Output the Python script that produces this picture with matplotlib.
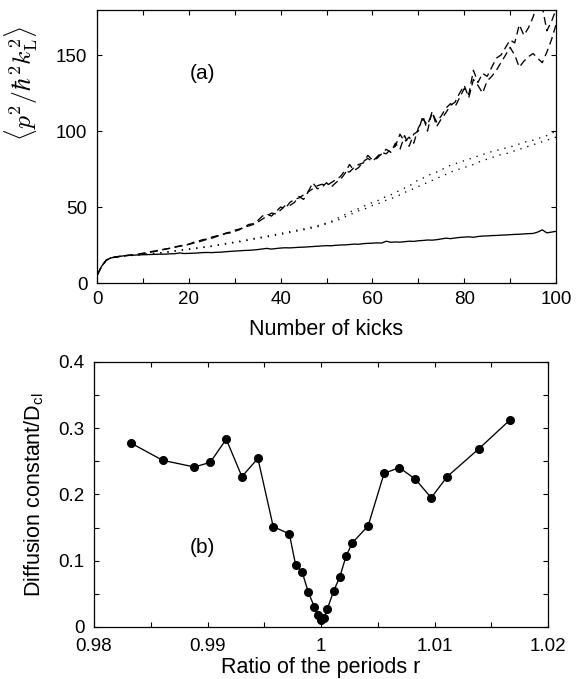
import matplotlib
matplotlib.use("Agg")
import matplotlib.pyplot as plt
from matplotlib.ticker import MultipleLocator, FuncFormatter

plt.rcParams["font.family"] = ["Liberation Sans", "DejaVu Sans"]
plt.rcParams["mathtext.fontset"] = "custom"
plt.rcParams["mathtext.rm"] = "Liberation Sans"
plt.rcParams["mathtext.it"] = "Liberation Sans:italic"

# panel (a): <p^2> vs number of kicks
kicks = list(range(101))
solid = [5, 11, 15, 16.5, 17, 17.5, 18, 18.2, 18.3, 18.5, 18.6, 18.7, 18.8, 18.9, 19, 19, 19.2, 19.3, 19.8, 19.4,
         19.5, 19.6, 19.8, 20, 20.1, 20, 20.2, 20.3, 20.6, 20.8, 21, 21.2, 21.4, 21.5, 21.7, 22, 22.4, 22.8, 22.3, 22.7,
         23, 23.2, 23.1, 23.3, 23.5, 23.6, 23.8, 24, 24.2, 24.4, 24.6, 24.5, 24.8, 25, 25.1, 25.3, 25.6, 25.5, 25.9, 26.1,
         26.2, 26.4, 26.3, 27.5, 26.8, 27, 26.9, 27.2, 27.5, 27.4, 27.8, 28, 28.3, 28.2, 28.5, 29, 29.5, 29.2, 29.6, 30,
         30.2, 30.4, 30.1, 30.6, 30.9, 31, 31.2, 31.3, 31.5, 31.6, 31.8, 32, 32.1, 32.3, 32.5, 32.6, 33.5, 35, 33, 33.5,
         34]
dotted_a = [5, 11, 15, 16.5, 17.1, 17.5, 17.9, 18.1, 18.3, 18.5, 18.8, 19.1, 19.4, 19.7, 20, 20.4, 20.8, 21.2, 21.6, 22,
            22.4, 22.8, 23.2, 23.6, 24, 24.4, 24.9, 25.4, 26, 26.5, 27, 27.5, 28, 28.6, 29.2, 29.8, 30.3, 30.8, 31.4, 32,
            32.6, 33.2, 33.8, 34.4, 35, 35.6, 36.3, 37, 37.7, 38.5, 39.5, 40.5, 42, 43.5, 45, 46.5, 48, 49, 50.5, 51.5,
            53, 54, 55.5, 57, 58, 59.5, 61, 62.5, 64, 65.5, 68, 69, 70.5, 72, 73, 74.5, 76, 77.5, 78.5, 79.5,
            80.5, 81.5, 82.5, 83.5, 84.5, 85.5, 86.5, 87.2, 88, 88.8, 89.5, 90.5, 91.5, 92.5, 93.5, 94, 95, 96, 97, 98.5,
            100]
dotted_b = [5, 11, 15, 16.4, 17, 17.4, 17.8, 18, 18.2, 18.4, 18.6, 18.9, 19.2, 19.5, 19.8, 20.1, 20.5, 20.9, 21.3, 21.7,
            22.1, 22.5, 22.9, 23.3, 23.7, 24.1, 24.6, 25.1, 25.6, 26.1, 26.6, 27.1, 27.6, 28.2, 28.7, 29.3, 29.8, 30.3, 30.9, 31.5,
            32, 32.6, 33.2, 33.8, 34.4, 35, 35.6, 36.3, 37, 37.9, 39, 40, 41, 42, 43.5, 45, 46, 47.5, 48.5, 49.5,
            51, 52, 53, 54.5, 55.5, 56.5, 58, 59.5, 61, 62, 63.5, 65, 66, 67.5, 69, 70, 71.5, 73, 74, 75,
            76, 77, 78, 79.5, 80.5, 81.5, 82.5, 83.5, 84.5, 85, 86, 87, 88, 89, 90, 91, 92, 93, 94, 95,
            96]
dashed_a = [5, 11, 15, 16.5, 17.2, 17.6, 18, 18.3, 18.6, 19, 19.6, 20.2, 20.8, 21.3, 22, 22.3, 23, 23.8, 24.4, 25,
            25.5, 26.8, 27.5, 28.5, 29, 30.2, 31, 31.5, 32.8, 33.5, 34.8, 35.5, 36.5, 38.5, 39, 41, 44, 45.5, 44, 47,
            50, 49, 53, 55, 56, 58, 60, 66, 62, 63, 66, 63, 66, 68, 72, 78, 74, 76, 80, 82,
            80, 83, 86, 85, 88, 90, 98, 93, 96, 92, 102, 108, 104, 112, 106, 110, 115, 118, 116, 122,
            128, 124, 140, 132, 138, 136, 142, 148, 150, 155, 160, 158, 170, 163, 168, 175, 185, 182, 166, 172,
            180]
dashed_b = [5, 11, 15, 16.5, 17.1, 17.5, 17.9, 18.2, 18.4, 18.8, 19.3, 19.8, 20.5, 21, 21.5, 22.5, 22.8, 23.5, 24.2, 24.6,
            25.5, 26.2, 27, 27.8, 28.8, 29.5, 30.5, 31.5, 32.5, 33, 34, 35, 36.8, 37.5, 38.5, 40, 42, 44, 46, 45.5,
            48, 51, 51, 53, 57, 55, 60, 62, 64, 65, 64, 66, 68, 70, 74, 73, 76, 78, 79, 84,
            81, 82, 85, 88, 86, 92, 88, 97, 90, 98, 100, 110, 100, 113, 103, 108, 112, 117, 119, 125,
            130, 122, 134, 130, 125, 133, 136, 140, 145, 150, 155, 150, 142, 146, 149, 151, 148, 145, 152, 160,
            170]

# panel (b): diffusion constant vs ratio of periods
ratio = [0.98326, 0.98606, 0.98885, 0.99024, 0.99165, 0.99303, 0.99444, 0.99579, 0.99721, 0.99776,
         0.99835, 0.99887, 0.99941, 0.99972, 1.00000, 1.00027, 1.00056, 1.00112, 1.00165, 1.00221,
         1.00276, 1.00415, 1.00556, 1.00691, 1.00832, 1.00971, 1.01112, 1.01391, 1.01668]
diffusion = [0.2775, 0.2515, 0.2415, 0.2485, 0.2835, 0.227, 0.2545, 0.1515, 0.1405, 0.094,
             0.0825, 0.053, 0.0305, 0.0175, 0.0105, 0.014, 0.0275, 0.0545, 0.0755, 0.107,
             0.127, 0.1525, 0.232, 0.2405, 0.223, 0.195, 0.227, 0.269, 0.313]

fig = plt.figure(figsize=(5.81, 6.79), dpi=100)
ax1 = fig.add_axes([0.167, 0.5832, 0.790, 0.4028])
ax2 = fig.add_axes([0.1618, 0.0766, 0.7814, 0.3903])

lw = 0.95
ax1.plot(kicks, dashed_a, color="black", lw=lw, ls=(0, (6, 3.5)))
ax1.plot(kicks, dashed_b, color="black", lw=lw, ls=(0, (6, 3.5)))
ax1.plot(kicks, dotted_a, color="black", lw=lw, ls=(0, (1, 4.5)))
ax1.plot(kicks, dotted_b, color="black", lw=lw, ls=(0, (1, 4.5)))
ax1.plot(kicks, solid, color="black", lw=lw)
ax1.set_xlim(0, 100)
ax1.set_ylim(0, 180)
ax1.xaxis.set_major_locator(MultipleLocator(20))
ax1.xaxis.set_minor_locator(MultipleLocator(10))
ax1.yaxis.set_major_locator(MultipleLocator(50))
ax1.set_xlabel("Number of kicks", fontsize=15.5)
ax1.set_ylabel(r"$\langle p^2/\hbar^2 k_{\rm L}^2\rangle$", fontsize=18.5, math_fontfamily="cm")
ax1.xaxis.set_label_coords(0.5, -0.13)
ax1.yaxis.set_label_coords(-0.125, 0.73)
ax1.text(23, 138, "(a)", fontsize=15, ha="center", va="center")

ax2.plot(ratio, diffusion, color="black", lw=lw, marker="o", ms=5.5, mfc="black", mec="black")
ax2.set_xlim(0.98, 1.02)
ax2.set_ylim(0, 0.4)
ax2.xaxis.set_major_locator(MultipleLocator(0.01))
ax2.xaxis.set_minor_locator(MultipleLocator(0.005))
ax2.yaxis.set_major_locator(MultipleLocator(0.1))
ax2.yaxis.set_minor_locator(MultipleLocator(0.05))
fmt = FuncFormatter(lambda v, pos: f"{v:.2f}".rstrip("0").rstrip("."))
ax2.xaxis.set_major_formatter(fmt)
ax2.yaxis.set_major_formatter(fmt)
ax2.set_xlabel("Ratio of the periods r", fontsize=15.5)
ax2.set_ylabel(r"Diffusion constant/D$_{\rm cl}$", fontsize=15.5)
ax2.xaxis.set_label_coords(0.5, -0.112)
ax2.yaxis.set_label_coords(-0.105, 0.5)
ax2.text(0.98951, 0.12, "(b)", fontsize=15, ha="center", va="center")

for ax in (ax1, ax2):
    ax.tick_params(which="both", direction="in", top=True, right=True, length=3.5, width=0.8,
                   labelsize=13.5)
    ax.tick_params(axis="y", pad=7)
    for s in ax.spines.values():
        s.set_linewidth(0.9)
ax1.tick_params(axis="x", pad=6)
ax2.tick_params(axis="x", pad=8)

fig.savefig("out.png", dpi=100)
